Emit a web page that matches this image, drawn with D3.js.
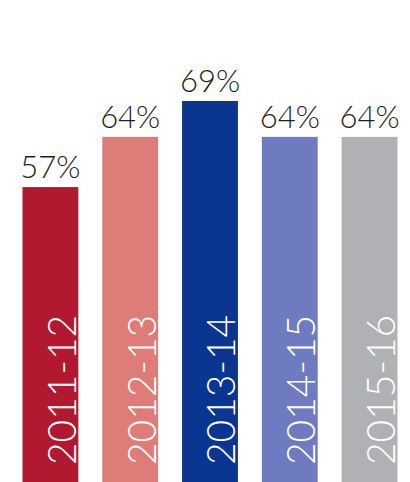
<!DOCTYPE html>
<html>
<head>
<meta charset="utf-8">
<script src="https://cdn.jsdelivr.net/npm/d3@7"></script>
<style>
  html, body { margin: 0; padding: 0; background: #ffffff; }
  svg { display: block; }
</style>
</head>
<body>
<div id="chart"></div>
<script>
// School years and their share values (%)
const years = ["2011-12", "2012-13", "2013-14", "2014-15", "2015-16"];
const shares = [57, 64, 69, 64, 64];
const barColors = ["#b2182f", "#de7c77", "#0a3590", "#6f7bc1", "#afb1b4"];

const width = 410, height = 482;

const svg = d3.select("#chart").append("svg")
  .attr("width", width)
  .attr("height", height);

const x = d3.scaleBand()
  .domain(years)
  .range([22.5, 397.5])
  .paddingInner(0.3)
  .paddingOuter(0);

// Zero sits below the visible area; bars run off the bottom edge
const y = d3.scaleLinear()
  .domain([0, 69])
  .range([596, 101]);

const rows = years.map((yr, i) => ({ year: yr, value: shares[i], color: barColors[i] }));

const g = svg.append("g");

g.selectAll("rect.bar")
  .data(rows)
  .join("rect")
  .attr("class", "bar")
  .attr("x", d => x(d.year))
  .attr("y", d => y(d.value))
  .attr("width", x.bandwidth())
  .attr("height", d => y(0) - y(d.value))
  .attr("fill", d => d.color);

// Value labels above each bar
g.selectAll("text.value")
  .data(rows)
  .join("text")
  .attr("class", "value")
  .attr("x", d => x(d.year) + x.bandwidth() / 2)
  .attr("y", d => y(d.value) - 9)
  .attr("text-anchor", "middle")
  .attr("font-family", "Lato, 'Open Sans', sans-serif")
  .attr("font-weight", 300)
  .attr("font-size", 31)
  .attr("fill", "#1e1e1e")
  .text(d => d.value + "%");

// Year labels written upward inside each bar
g.selectAll("text.year")
  .data(rows)
  .join("text")
  .attr("class", "year")
  .attr("transform", d => `translate(${x(d.year) + x.bandwidth() - 2.5},${height - 17}) rotate(-90)`)
  .attr("text-anchor", "start")
  .attr("font-family", "Lato, 'Open Sans', sans-serif")
  .attr("font-weight", 300)
  .attr("font-size", 39)
  .attr("fill", "#ffffff")
  .text(d => d.year);
</script>
</body>
</html>
